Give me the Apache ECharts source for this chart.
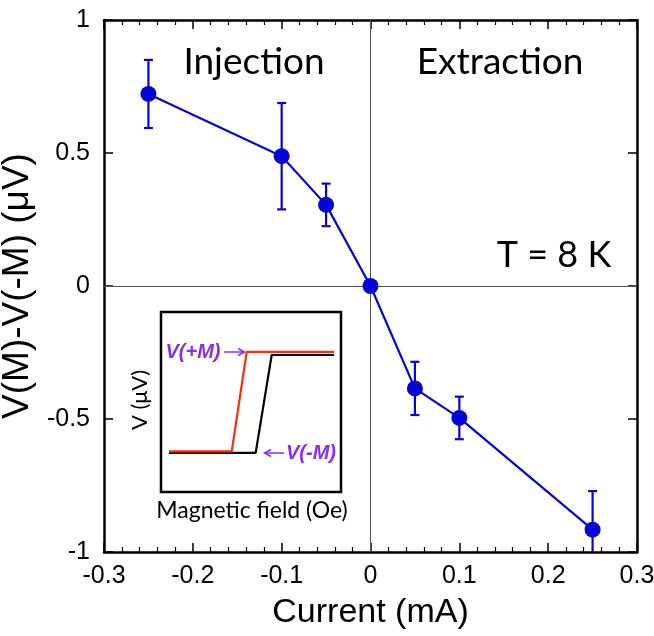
<!DOCTYPE html>
<html><head><meta charset="utf-8">
<script src="https://cdn.jsdelivr.net/npm/echarts@6/dist/echarts.min.js"></script>
<style>html,body{margin:0;padding:0;background:#fff}#c{width:654px;height:636px}</style>
</head><body><div id="c"></div>
<script>
// Main data
const currents = [-0.25, -0.1, -0.05, 0, 0.05, 0.1, 0.25];
const dV = [0.722, 0.488, 0.305, 0.0, -0.385, -0.496, -0.916];
const errs = [0.128, 0.2, 0.08, 0, 0.1, 0.08, 0.145];
const xTicks = [-0.3, -0.2, -0.1, 0, 0.1, 0.2, 0.3];
const yTicks = [-1, -0.5, 0, 0.5, 1];
// Inset (schematic hysteresis), normalized units 0..100
const insetRed = [[4.4, 22.6], [39.3, 22.6], [47.6, 77.8], [96.1, 77.8]];
const insetBlack = [[4.4, 21.7], [52.6, 21.7], [61.5, 76.1], [96.1, 76.1]];

const blue = '#0505D8';
const purple = '#8B2CF0';
const chart = echarts.init(document.getElementById('c'));
const pts = currents.map((x, i) => [x, dV[i]]);
const ebData = currents.map((x, i) => [x, dV[i] - errs[i], dV[i] + errs[i]]).filter((d, i) => errs[i] > 0);
const fmt = v => (v === 0 ? '0' : String(v));
const axisCommon = {
  type: 'value',
  axisLine: { show: true, onZero: false, lineStyle: { color: '#000', width: 2.5 } },
  axisTick: { show: true, inside: true, length: 9, lineStyle: { color: '#000', width: 1.5 } },
  splitLine: { show: false }
};
chart.setOption({
  animation: false,
  backgroundColor: '#fff',
  grid: [
    { left: 104, top: 20, width: 533, height: 532, containLabel: false, outerBoundsMode: 'none' },
    { left: 161, top: 312, width: 180, height: 180, show: true, backgroundColor: '#fff', borderColor: '#000', borderWidth: 2.5, z: 5, containLabel: false, outerBoundsMode: 'none' }
  ],
  xAxis: [
    Object.assign({}, axisCommon, {
      gridIndex: 0, position: 'bottom', min: -0.3, max: 0.3, interval: 0.1,
      minorTick: { show: true, splitNumber: 5, length: 5, lineStyle: { color: '#000', width: 1.2 } },
      axisLabel: { fontFamily: 'Liberation Sans', fontSize: 25, color: '#000', margin: 12,
        formatter: v => fmt(Math.round(v * 10) / 10) },
      name: 'Current (mA)', nameLocation: 'middle', nameGap: 44,
      nameTextStyle: { fontFamily: 'Liberation Sans', fontSize: 34, color: '#000' }
    }),
    Object.assign({}, axisCommon, {
      gridIndex: 0, position: 'top', min: -0.3, max: 0.3, interval: 0.1,
      minorTick: { show: true, splitNumber: 5, length: 5, lineStyle: { color: '#000', width: 1.2 } },
      axisLabel: { show: false }
    }),
    { gridIndex: 1, type: 'value', min: 0, max: 100, show: false }
  ],
  yAxis: [
    Object.assign({}, axisCommon, {
      gridIndex: 0, position: 'left', min: -1, max: 1, interval: 0.5,
      axisLabel: { fontFamily: 'Liberation Sans', fontSize: 25, color: '#000', margin: 14,
        formatter: v => fmt(v) },
      name: 'V(M)-V(-M) (\u03bcV)', nameLocation: 'middle', nameGap: 62, nameRotate: 90,
      nameTextStyle: { fontFamily: 'Liberation Sans', fontSize: 37, color: '#000' }
    }),
    Object.assign({}, axisCommon, {
      gridIndex: 0, position: 'right', min: -1, max: 1, interval: 0.5,
      axisLabel: { show: false }
    }),
    { gridIndex: 1, type: 'value', min: 0, max: 100, show: false }
  ],
  series: [
    {
      type: 'line', xAxisIndex: 0, yAxisIndex: 0, data: pts, z: 3,
      symbol: 'circle', symbolSize: 16,
      itemStyle: { color: blue }, lineStyle: { color: blue, width: 2.2 },
      markLine: {
        silent: true, symbol: 'none', label: { show: false }, z: 1,
        lineStyle: { color: '#555', width: 1, type: 'solid' },
        data: [{ xAxis: 0 }, { yAxis: 0 }]
      }
    },
    {
      type: 'custom', xAxisIndex: 0, yAxisIndex: 0, data: ebData, z: 2, clip: true,
      renderItem: function (params, api) {
        const x = api.value(0);
        const lo = api.coord([x, api.value(1)]);
        const hi = api.coord([x, api.value(2)]);
        const w = 4.5;
        const st = { stroke: blue, lineWidth: 2.2 };
        return { type: 'group', children: [
          { type: 'line', shape: { x1: lo[0], y1: lo[1], x2: hi[0], y2: hi[1] }, style: st },
          { type: 'line', shape: { x1: lo[0] - w, y1: lo[1], x2: lo[0] + w, y2: lo[1] }, style: st },
          { type: 'line', shape: { x1: hi[0] - w, y1: hi[1], x2: hi[0] + w, y2: hi[1] }, style: st }
        ] };
      }
    },
    {
      type: 'line', xAxisIndex: 2, yAxisIndex: 2, data: insetBlack, z: 6,
      symbol: 'none', lineStyle: { color: '#000', width: 2.2 }
    },
    {
      type: 'line', xAxisIndex: 2, yAxisIndex: 2, data: insetRed, z: 7,
      symbol: 'none', lineStyle: { color: '#FF2A0A', width: 2.2 }
    }
  ],
  graphic: [
    { type: 'text', x: 254, y: 62, z: 10, style: { text: 'Injection', font: '37px Lato', fill: '#000', align: 'center', verticalAlign: 'middle' } },
    { type: 'text', x: 500, y: 62, z: 10, style: { text: 'Extraction', font: '37px Lato', fill: '#000', align: 'center', verticalAlign: 'middle' } },
    { type: 'text', x: 554, y: 255, z: 10, style: { text: 'T = 8 K', font: '36px Lato', fill: '#000', align: 'center', verticalAlign: 'middle' } },
    { type: 'text', x: 252, y: 511, z: 10, style: { text: 'Magnetic field (Oe)', font: '23px Lato', fill: '#000', align: 'center', verticalAlign: 'middle' } },
    { type: 'text', x: 140, y: 400, z: 10, rotation: Math.PI / 2, style: { text: 'V (\u03bcV)', font: '22px Lato', fill: '#000', align: 'center', verticalAlign: 'middle' } },
    { type: 'text', x: 193, y: 352, z: 10, style: { text: 'V(+M)', font: 'italic bold 20px "Liberation Sans"', fill: purple, align: 'center', verticalAlign: 'middle' } },
    { type: 'line', z: 10, shape: { x1: 224, y1: 352, x2: 244, y2: 352 }, style: { stroke: purple, lineWidth: 1.5 } },
    { type: 'polyline', z: 10, shape: { points: [[238, 348.5], [244.5, 352], [238, 355.5]] }, style: { stroke: purple, lineWidth: 1.5, fill: null } },
    { type: 'text', x: 311, y: 453, z: 10, style: { text: 'V(-M)', font: 'italic bold 20px "Liberation Sans"', fill: purple, align: 'center', verticalAlign: 'middle' } },
    { type: 'line', z: 10, shape: { x1: 265, y1: 453, x2: 284, y2: 453 }, style: { stroke: purple, lineWidth: 1.5 } },
    { type: 'polyline', z: 10, shape: { points: [[271, 449.5], [264.5, 453], [271, 456.5]] }, style: { stroke: purple, lineWidth: 1.5, fill: null } }
  ]
});
</script></body></html>
